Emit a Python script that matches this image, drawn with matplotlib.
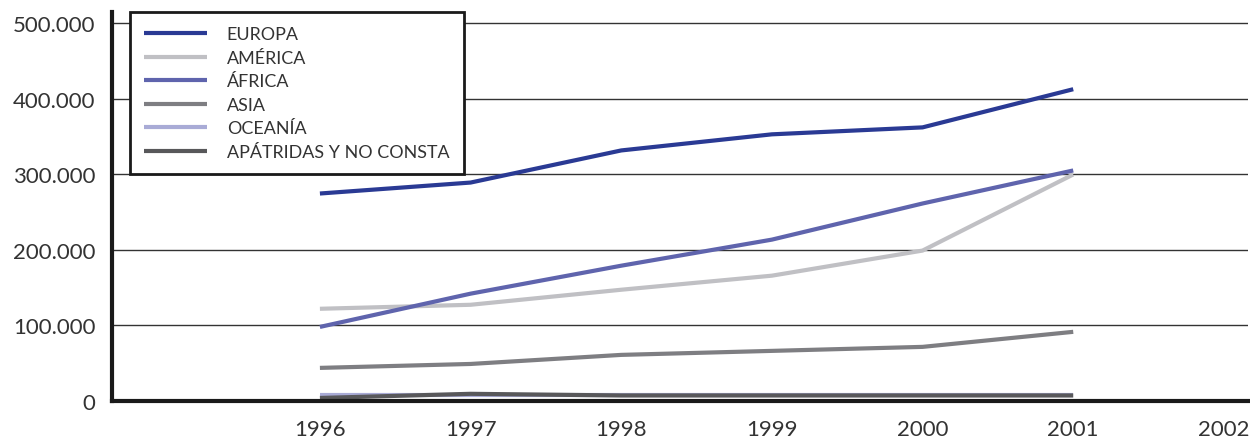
import numpy as np
import matplotlib
matplotlib.use("Agg")
import matplotlib.pyplot as plt
from matplotlib.ticker import FuncFormatter

plt.rcParams["font.family"] = ["Lato", "DejaVu Sans"]

# Datos
years = [1996, 1997, 1998, 1999, 2000, 2001]
europa = [274500, 289000, 331500, 352800, 362000, 412500]
america = [122000, 127300, 147200, 165800, 199000, 299700]
africa = [98000, 142000, 179000, 213500, 261300, 305000]
asia = [43800, 49000, 61000, 66300, 71600, 91500]
oceania = [8000, 8000, 8000, 8000, 8000, 8000]
apatridas = [4000, 9500, 7300, 7300, 7300, 7300]

series = [
    ("EUROPA", europa, "#2a3a94"),
    ("AMÉRICA", america, "#c0c0c4"),
    ("ÁFRICA", africa, "#5f64ad"),
    ("ASIA", asia, "#7e7e82"),
    ("OCEANÍA", oceania, "#a9abd6"),
    ("APÁTRIDAS Y NO CONSTA", apatridas, "#58585a"),
]
x_ticks = [1996, 1997, 1998, 1999, 2000, 2001, 2002]
y_ticks = [0, 100000, 200000, 300000, 400000, 500000]

fig = plt.figure(figsize=(12.5, 4.39), dpi=100)
ax = fig.add_axes([0.0896, 0.0843, 0.9088, 0.886])

for label, vals, color in series:
    ax.plot(years, vals, color=color, lw=3.0, label=label,
            solid_joinstyle="round", solid_capstyle="butt")

ax.set_xlim(1994.62, 2002.16)
ax.set_ylim(0, 514600)
ax.set_xticks(x_ticks)
ax.set_yticks(y_ticks)
ax.yaxis.set_major_formatter(FuncFormatter(lambda v, p: f"{int(v):,}".replace(",", ".")))
ax.tick_params(axis="both", length=0, labelsize=16, colors="#333333")
ax.tick_params(axis="y", pad=12)
ax.tick_params(axis="x", pad=13)

ax.grid(axis="y", color="#333333", lw=1.0)
ax.set_axisbelow(True)
for s in ["top", "right"]:
    ax.spines[s].set_visible(False)
ax.spines["left"].set_linewidth(3)
ax.spines["bottom"].set_linewidth(3)
ax.spines["left"].set_color("#1a1a1a")
ax.spines["bottom"].set_color("#1a1a1a")

leg = ax.legend(loc="upper left", bbox_to_anchor=(0.0158, 1.0), borderaxespad=0,
                fontsize=12.9, handlelength=3.5, handletextpad=1.1,
                labelspacing=0.42, borderpad=0.8, fancybox=False,
                edgecolor="#1a1a1a", framealpha=1)
leg.get_frame().set_linewidth(2)
for t in leg.get_texts():
    t.set_color("#333333")

fig.savefig("out.png", dpi=100)
